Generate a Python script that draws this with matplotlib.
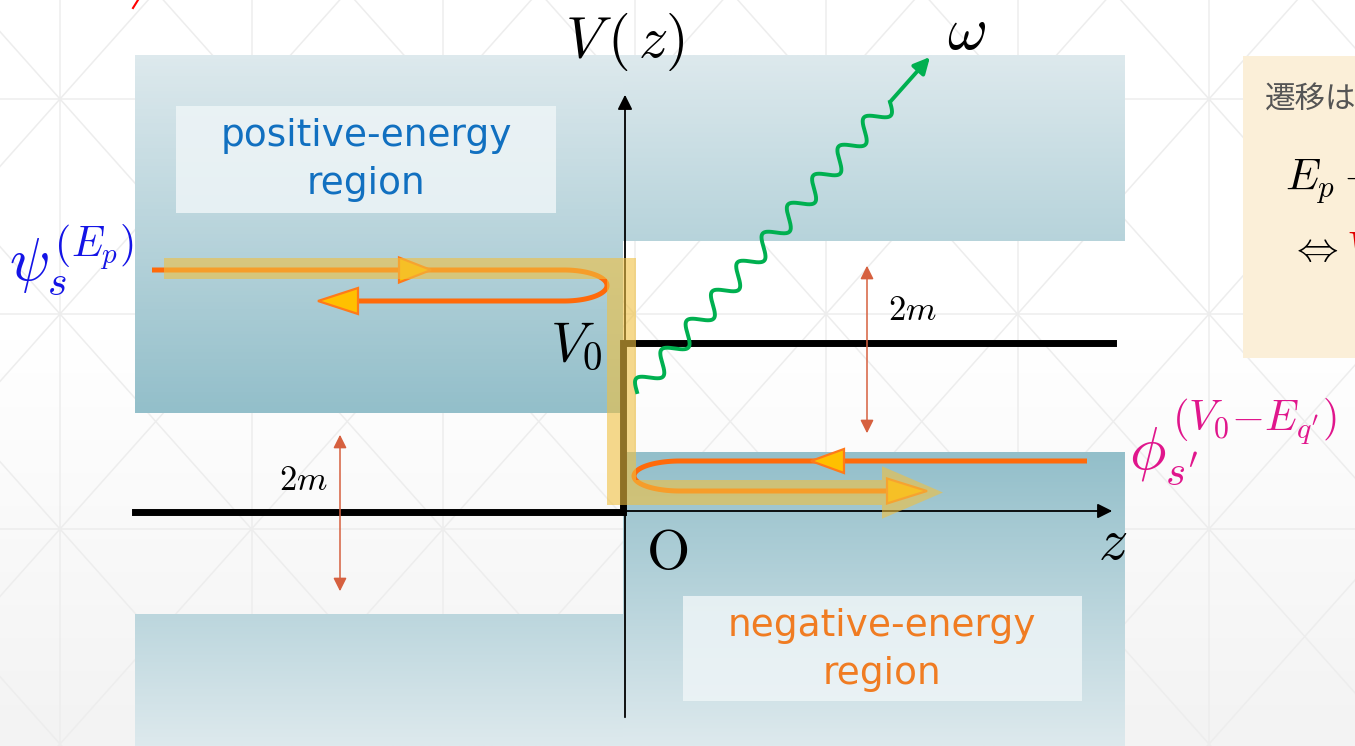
import numpy as np
import matplotlib.pyplot as plt
from matplotlib.colors import LinearSegmentedColormap
from matplotlib.patches import Polygon, Rectangle

plt.rcParams["mathtext.fontset"] = "cm"
plt.rcParams["font.family"] = ["Noto Sans CJK JP", "DejaVu Sans"]

# units: energy in m, origin at the potential step; 1 unit = 100 px
z_lim = (-6.23, 7.32)
v_lim = (-2.34, 5.12)

z_band = (-4.88, 5.02)          # horizontal extent of the energy bands
band_top, band_bottom = 4.57, -2.34
V0 = 1.69
pos_edge = (0.99, 2.71)         # lower edge of positive-energy band (z<0, z>0)
neg_edge = (-1.02, 0.60)        # upper edge of negative-energy band (z<0, z>0)

step_z = [-4.88, 0.0, 0.0, 4.90]
step_V = [0.0, 0.0, V0, V0]

gap_z = [-2.83, 2.44]
gap_V = [(0.80, -0.82), (2.49, 0.76)]
gap_label_pos = [(-3.20, 0.32), (2.89, 2.01)]

# incident + reflected wave (z<0), transmitted hole wave (z>0)
incident = dict(z_start=-4.71, z_turn=-0.59, z_end=-2.65, v_in=2.42, v_out=2.11, bulge=0.43)
hole = dict(z_start=4.64, z_turn=0.57, z_end=2.64, v_in=0.51, v_out=0.21, bulge=-0.46)
heads = [(-1.92, -2.24, 2.42, 0.125), (-3.05, -2.65, 2.11, 0.13),
         (1.88, 2.21, 0.51, 0.12), (3.04, 2.64, 0.21, 0.125)]

# photon
photon_start = (0.14, 1.20)
photon_end = (2.67, 4.10)
photon_tip = (3.07, 4.55)
photon_periods = 10

# flux band (centre line and half widths)
flux_z = [-4.59, -0.015, -0.015, 2.59]
flux_V = [2.435, 2.435, 0.195, 0.195]
flux_hw = [0.105, 0.145, 0.125]
flux_tip = 3.20

teal_dark, teal_light = "#93bfca", "#dde9ed"
orange = "#ff6a0a"

fig = plt.figure(figsize=(13.55, 7.46), dpi=100)
ax = fig.add_axes([0, 0, 1, 1])
ax.set_xlim(*z_lim)
ax.set_ylim(*v_lim)
ax.axis("off")

# faint lattice in the background
bg = LinearSegmentedColormap.from_list("bg", ["#ffffff", "#f3f3f3"])
ax.imshow(np.linspace(1, 0, 50)[:, None], extent=(z_lim[0], z_lim[1], v_lim[0], 1.8),
          cmap=bg, aspect="auto", origin="lower", zorder=0)
x0, dx, y0, dy = -5.63, 1.915, 4.13, 2.15
lc = dict(color="#ededed", lw=1.1, zorder=0.5)
for i in range(-1, 8):
    ax.plot([x0 + i * dx] * 2, v_lim, **lc)
for j in range(-2, 3):
    ax.plot(z_lim, [y0 - j * dy] * 2, **lc)
t = np.array([-4, 12])
for k in range(-10, 10):
    ax.plot(x0 + t * dx, y0 + (t - k) * dy, **lc)
    ax.plot(x0 + t * dx, y0 + (k - t) * dy, **lc)
ax.plot([-4.90, -4.85], [5.04, 5.12], color="red", lw=1.5)

# energy bands with a vertical gradient
teal = LinearSegmentedColormap.from_list("teal", [teal_dark, teal_light])


def band(z0, z1, v0, v1, v_dark, v_light):
    vv = np.linspace(v0, v1, 100)
    frac = (vv - v_dark) / (v_light - v_dark)
    ax.imshow(frac[:, None], extent=(z0, z1, v0, v1), cmap=teal, vmin=0, vmax=1,
              aspect="auto", origin="lower", zorder=1)


band(z_band[0], 0, pos_edge[0], band_top, pos_edge[0], band_top)
band(0, z_band[1], pos_edge[1], band_top, pos_edge[0], band_top)
band(z_band[0], 0, band_bottom, neg_edge[0], neg_edge[1], band_bottom)
band(0, z_band[1], band_bottom, neg_edge[1], neg_edge[1], band_bottom)

ax.add_patch(Rectangle((-4.47, 2.99), 3.80, 1.07, fc="#eef5f7", alpha=0.85, ec="none", zorder=2))
ax.add_patch(Rectangle((0.60, -1.89), 3.99, 1.05, fc="#eef5f7", alpha=0.85, ec="none", zorder=2))
label_font = ["DejaVu Sans"]
ax.text(-2.57, 3.52, "positive-energy\nregion", ha="center", va="center", fontsize=27,
        family=label_font, color="#1170c0", linespacing=1.4, zorder=3)
ax.text(2.59, -1.38, "negative-energy\nregion", ha="center", va="center", fontsize=27,
        family=label_font, color="#f07c22", linespacing=1.4, zorder=3)

# axes
ax.annotate("", xy=(4.92, 0.01), xytext=(z_band[0], 0.01),
            arrowprops=dict(arrowstyle="-|>", color="black", lw=1.3, mutation_scale=22), zorder=3)
ax.annotate("", xy=(0.02, 4.20), xytext=(0.02, -2.08),
            arrowprops=dict(arrowstyle="-|>", color="black", lw=1.3, mutation_scale=22), zorder=3)

# potential step
ax.plot(step_z, step_V, color="black", lw=5, solid_joinstyle="miter", zorder=3)

# 2m gaps
for z, (va, vb), (lx, ly) in zip(gap_z, gap_V, gap_label_pos):
    ax.annotate("", xy=(z, va), xytext=(z, vb),
                arrowprops=dict(arrowstyle="<|-|>", color="#d6603f", lw=1.1, mutation_scale=20), zorder=3)
    ax.text(lx, ly, r"$2m$", ha="center", va="center", fontsize=25, zorder=7)


def hairpin(z_start, z_turn, z_end, v_in, v_out, bulge):
    th = np.linspace(np.pi / 2, -np.pi / 2, 80)
    vc, ry = (v_in + v_out) / 2, (v_in - v_out) / 2
    z = np.concatenate([[z_start], z_turn + bulge * np.cos(th), [z_end]])
    v = np.concatenate([[v_in], vc + ry * np.sin(th), [v_out]])
    return z, v


for path in (incident, hole):
    z, v = hairpin(**path)
    ax.plot(z, v, color=orange, lw=3.6, solid_capstyle="butt", zorder=4)
for tip, base, v, hh in heads:
    ax.add_patch(Polygon([(tip, v), (base, v + hh), (base, v - hh)], closed=True,
                         fc="#ffc000", ec="#ff7a1a", lw=1.6, zorder=4.5))

# translucent flux band drawn over the waves
zl, zc, zr = flux_z[0], flux_z[1], flux_z[3]
vt, vb = flux_V[0], flux_V[2]
ht, hv, hb = flux_hw
flux_poly = [(zl, vt + ht), (zc + hv, vt + ht), (zc + hv, vb + hb), (zr, vb + hb),
             (zr, vb + 2.1 * hb), (flux_tip, vb), (zr, vb - 2.1 * hb), (zr, vb - hb),
             (zc - hv, vb - hb), (zc - hv, vt - ht), (zl, vt - ht)]
ax.add_patch(Polygon(flux_poly, closed=True, fc="#f0c040", alpha=0.6, ec="none", zorder=5))

# emitted photon
s = np.linspace(0, 1, 800)
d = np.array(photon_end) - np.array(photon_start)
n = np.array([-d[1], d[0]]) / np.hypot(*d)
wave = 0.095 * np.sin(2 * np.pi * photon_periods * s)
pz = photon_start[0] + s * d[0] + wave * n[0]
pv = photon_start[1] + s * d[1] + wave * n[1]
ax.plot(pz, pv, color="#00b050", lw=2.8, zorder=6)
ax.annotate("", xy=photon_tip, xytext=photon_end,
            arrowprops=dict(arrowstyle="-|>", color="#00b050", lw=2.8, mutation_scale=24,
                            shrinkA=0, shrinkB=0), zorder=6)

# labels
ax.text(0.02, 4.70, r"$V\,(\,z)$", ha="center", va="center", fontsize=42, zorder=7)
ax.text(3.43, 4.80, r"$\omega$", ha="center", va="center", fontsize=44, zorder=7)
ax.text(-0.21, 1.67, r"$V_0$", ha="right", va="center", fontsize=40, zorder=7)
ax.text(0.44, -0.41, r"$\mathrm{O}$", ha="center", va="center", fontsize=40, zorder=7)
ax.text(4.90, -0.31, r"$z$", ha="center", va="center", fontsize=42, zorder=7)
ax.text(-6.14, 2.52, r"$\psi_s^{(E_p)}$", ha="left", va="center", fontsize=43,
        color="#1414e6", zorder=7)
ax.text(5.06, 0.70, r"$\phi_{s'}^{(V_0{-}E_{q'})}$", ha="left", va="center", fontsize=44,
        color="#e0168c", zorder=7)

# note box on the right, running off the edge
ax.add_patch(Rectangle((6.20, 1.54), 1.3, 3.02, fc="#fbefd8", ec="none", zorder=2))
ax.text(6.42, 4.12, "遷移は可能", ha="left", va="center", fontsize=22, color="#555555", zorder=7)
ax.text(6.62, 3.30, r"$E_p + \omega$", ha="left", va="center", fontsize=32, zorder=7)
ax.text(6.66, 2.62, r"$\Leftrightarrow$", ha="left", va="center", fontsize=30, zorder=7)
ax.text(7.23, 2.62, r"$V$", ha="left", va="center", fontsize=32, color="#e00000", zorder=7)

fig.savefig("out.png", dpi=100)
